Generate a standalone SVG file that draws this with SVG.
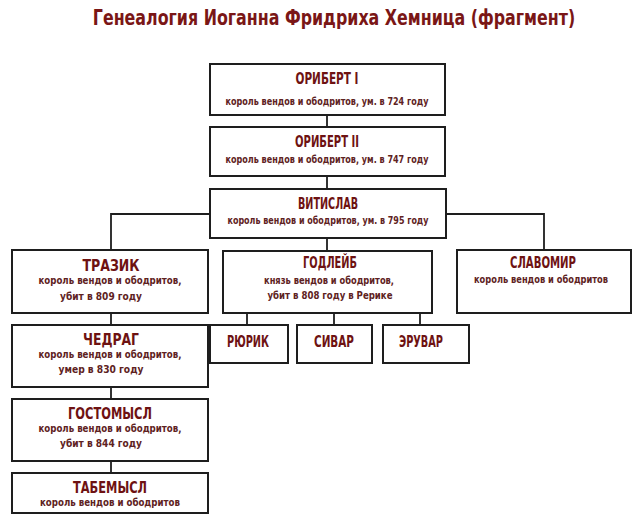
<svg xmlns="http://www.w3.org/2000/svg" width="640" height="532" viewBox="0 0 640 532">
<style>
.bg{fill:#ffffff}
.box{fill:#ffffff;stroke:#1e1e1e;stroke-width:2}
.ln{fill:none;stroke:#1e1e1e;stroke-width:1.8}
.h{font-family:"Liberation Sans Narrow","DejaVu Sans Condensed","Liberation Sans",sans-serif;font-stretch:condensed;font-weight:bold;font-size:15px;fill:#6e1212;text-anchor:middle}
.s{font-family:"Liberation Sans Narrow","DejaVu Sans Condensed","Liberation Sans",sans-serif;font-stretch:condensed;font-weight:bold;font-size:10px;fill:#5e2222;text-anchor:middle}
.t{font-family:"Liberation Sans Narrow","DejaVu Sans Condensed","Liberation Sans",sans-serif;font-stretch:condensed;font-weight:bold;font-size:21px;fill:#7a1616;text-anchor:middle}
</style>
<rect class="bg" x="0" y="0" width="640" height="532"/>
<text class="t" transform="translate(334,25) scale(0.84,1)" x="0" y="0">Генеалогия Иоганна Фридриха Хемница (фрагмент)</text>
<g id="connectors">
<line class="ln" x1="327" y1="115" x2="327" y2="127"/>
<line class="ln" x1="327" y1="176" x2="327" y2="189"/>
<polyline class="ln" points="210,214 111,214 111,250"/>
<polyline class="ln" points="446,214 544,214 544,250"/>
<line class="ln" x1="327" y1="238" x2="327" y2="251"/>
<line class="ln" x1="111" y1="313" x2="111" y2="325"/>
<line class="ln" x1="111" y1="387" x2="111" y2="399"/>
<line class="ln" x1="111" y1="461" x2="111" y2="473"/>
<line class="ln" x1="247" y1="313" x2="247" y2="325"/>
<line class="ln" x1="334" y1="313" x2="334" y2="325"/>
<line class="ln" x1="420" y1="313" x2="420" y2="325"/>
</g>
<g id="oribert1">
<rect class="box" x="210" y="64" width="235" height="51"/>
<text class="h" x="327" y="84" textLength="63" lengthAdjust="spacingAndGlyphs">ОРИБЕРТ I</text>
<text class="s" x="327" y="105" textLength="203" lengthAdjust="spacingAndGlyphs">король вендов и ободритов, ум. в 724 году</text>
</g>
<g id="oribert2">
<rect class="box" x="210" y="127" width="235" height="49"/>
<text class="h" x="327" y="147" textLength="64" lengthAdjust="spacingAndGlyphs">ОРИБЕРТ II</text>
<text class="s" x="327" y="163" textLength="203" lengthAdjust="spacingAndGlyphs">король вендов и ободритов, ум. в 747 году</text>
</g>
<g id="vitislav">
<rect class="box" x="210" y="189" width="236" height="49"/>
<text class="h" x="328" y="209" textLength="60" lengthAdjust="spacingAndGlyphs">ВИТИСЛАВ</text>
<text class="s" x="328" y="224" textLength="201" lengthAdjust="spacingAndGlyphs">король вендов и ободритов, ум. в 795 году</text>
</g>
<g id="trazik">
<rect class="box" x="12" y="250" width="196" height="63"/>
<text class="h" x="111" y="271" textLength="57" lengthAdjust="spacingAndGlyphs">ТРАЗИК</text>
<text class="s" x="110" y="284" textLength="143" lengthAdjust="spacingAndGlyphs">король вендов и ободритов,</text>
<text class="s" x="101" y="300" textLength="82" lengthAdjust="spacingAndGlyphs">убит в 809 году</text>
</g>
<g id="chedrag">
<rect class="box" x="12" y="325" width="196" height="62"/>
<text class="h" x="111" y="345" textLength="56" lengthAdjust="spacingAndGlyphs">ЧЕДРАГ</text>
<text class="s" x="110" y="358" textLength="143" lengthAdjust="spacingAndGlyphs">король вендов и ободритов,</text>
<text class="s" x="101" y="373" textLength="85" lengthAdjust="spacingAndGlyphs">умер в 830 году</text>
</g>
<g id="gostomysl">
<rect class="box" x="12" y="399" width="196" height="62"/>
<text class="h" x="110" y="419" textLength="84" lengthAdjust="spacingAndGlyphs">ГОСТОМЫСЛ</text>
<text class="s" x="110" y="432" textLength="143" lengthAdjust="spacingAndGlyphs">король вендов и ободритов,</text>
<text class="s" x="101" y="447" textLength="82" lengthAdjust="spacingAndGlyphs">убит в 844 году</text>
</g>
<g id="tabemysl">
<rect class="box" x="12" y="473" width="196" height="40"/>
<text class="h" x="110" y="493" textLength="74" lengthAdjust="spacingAndGlyphs">ТАБЕМЫСЛ</text>
<text class="s" x="110" y="506" textLength="140" lengthAdjust="spacingAndGlyphs">король вендов и ободритов</text>
</g>
<g id="godleib">
<rect class="box" x="223" y="251" width="209" height="62"/>
<text class="h" x="330" y="268" textLength="54" lengthAdjust="spacingAndGlyphs">ГОДЛЕЙБ</text>
<text class="s" x="329" y="284" textLength="130" lengthAdjust="spacingAndGlyphs">князь вендов и ободритов,</text>
<text class="s" x="330" y="299" textLength="125" lengthAdjust="spacingAndGlyphs">убит в 808 году в Рерике</text>
</g>
<g id="slavomir">
<rect class="box" x="457" y="250" width="174" height="63"/>
<text class="h" x="543" y="268" textLength="66" lengthAdjust="spacingAndGlyphs">СЛАВОМИР</text>
<text class="s" x="541" y="283" textLength="134" lengthAdjust="spacingAndGlyphs">король вендов и ободритов</text>
</g>
<g id="ryurik">
<rect class="box" x="210" y="325" width="78" height="38"/>
<text class="h" x="248" y="347" textLength="42" lengthAdjust="spacingAndGlyphs">РЮРИК</text>
</g>
<g id="sivar">
<rect class="box" x="297" y="325" width="75" height="38"/>
<text class="h" x="334" y="347" textLength="40" lengthAdjust="spacingAndGlyphs">СИВАР</text>
</g>
<g id="eruvar">
<rect class="box" x="383" y="325" width="86" height="38"/>
<text class="h" x="421" y="347" textLength="44" lengthAdjust="spacingAndGlyphs">ЭРУВАР</text>
</g>
</svg>
